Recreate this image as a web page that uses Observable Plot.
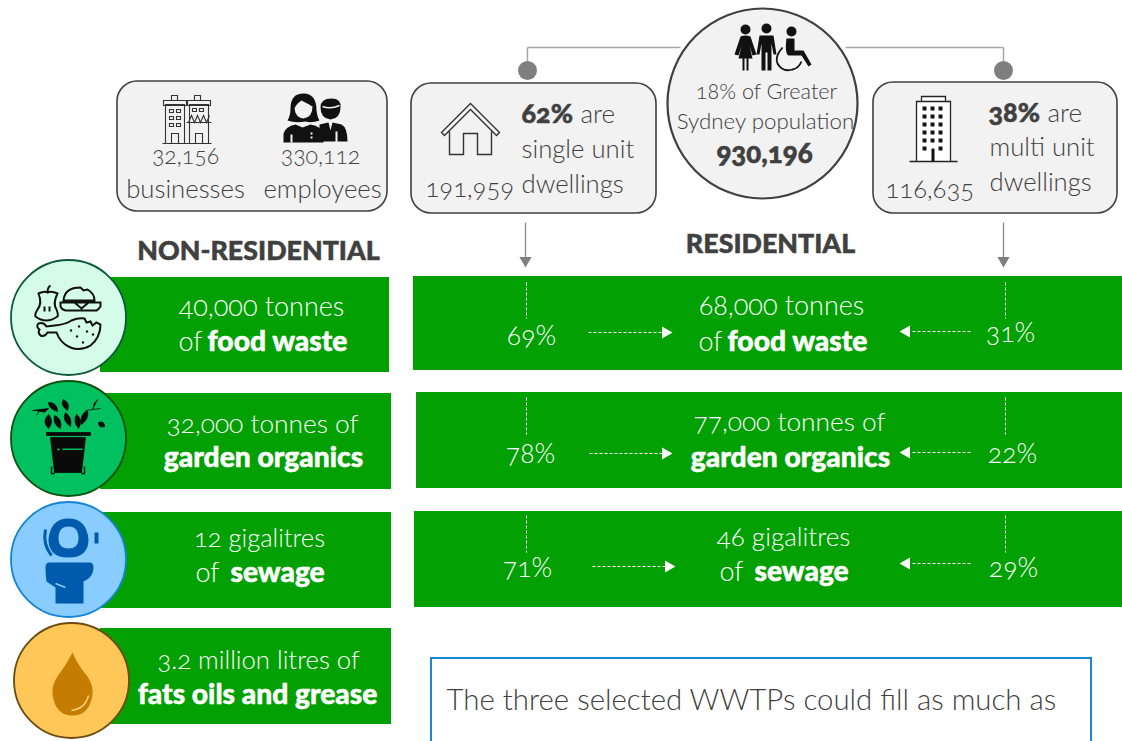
<!DOCTYPE html>
<html>
<head>
<meta charset="utf-8">
<style>html,body{margin:0;padding:0;background:#fff}svg{display:block}</style>
<script src="https://cdn.jsdelivr.net/npm/d3@7"></script>
<script src="https://cdn.jsdelivr.net/npm/@observablehq/plot@0.6"></script>
</head>
<body>
<div id="chart"></div>
<script>
// ---- values ----
const nonResidentialCounts = ["32,156", "330,112"];
const nonResidentialUnits = ["businesses", "employees"];
const dwellingCounts = ["191,959", "116,635"];
const dwellingShares = ["62%", "38%"];
const dwellingTypes = ["single unit", "multi unit"];
const population = "930,196";
const populationNote = ["18% of Greater", "Sydney population"];
const sectionTitles = ["NON-RESIDENTIAL", "RESIDENTIAL"];
const nonResidentialAmounts = ["40,000 tonnes", "32,000 tonnes of", "12 gigalitres", "3.2 million litres of"];
const residentialAmounts = ["68,000 tonnes", "77,000 tonnes of", "46 gigalitres"];
const streams = ["food waste", "garden organics", "sewage", "fats oils and grease"];
const singleUnitShares = ["69%", "78%", "71%"];
const multiUnitShares = ["31%", "22%", "29%"];
const note = "The three selected WWTPs could fill as much as";

// ---- page layout ----
const FONT = "Lato, 'Open Sans', sans-serif";
const GREEN = "#02a002", INK = "#404040", PANEL = "#f2f2f2";
const leftBars = [[100,389,277,372],[100,391,393,489],[100,391,512,608],[100,391,628,724]];
const rightBars = [[413,1122,276,370],[416,1122,392,488],[414,1122,511,607]];
const panels = [[117,387,81,211],[411,656,83,213],[873,1117,82,213]];
const badges = [
  {x:68,y:317,fill:"#d5fbe9",stroke:"#0b5a3c"},
  {x:68,y:438,fill:"#00c060",stroke:"#0c5010"},
  {x:68,y:559,fill:"#89ccff",stroke:"#1184d8"},
  {x:71,y:680,fill:"#ffc658",stroke:"#6b4b10"}
];
const rows = [
  {dash:[282,318], right:[588,662,332], left:[912,971,331]},
  {dash:[397,434], right:[589,662,453], left:[912,972,452]},
  {dash:[515,552], right:[592,665,566], left:[912,972,563]}
];

// icon glyphs: tiny path language drawn through Plot's custom dot symbols
function sym(d){
  const t = d.match(/[MLQCZOR]|-?[\d.]+/g);
  return {draw(c){
    let i = 0, k = null;
    const n = () => +t[i++];
    while(i < t.length){
      if(/[A-Z]/.test(t[i])) k = t[i++];
      if(k==="M"){c.moveTo(n(),n()); k="L";}
      else if(k==="L") c.lineTo(n(),n());
      else if(k==="Q") c.quadraticCurveTo(n(),n(),n(),n());
      else if(k==="Z") c.closePath();
      else if(k==="O"){const x=n(),y=n(),r=n(); c.moveTo(x+r,y); c.arc(x,y,r,0,2*Math.PI);}
      else if(k==="R"){const x=n(),y=n(),w=n(),h=n(); c.moveTo(x,y); c.lineTo(x+w,y); c.lineTo(x+w,y+h); c.lineTo(x,y+h); c.closePath();}
    }
  }};
}
const glyph = (x,y,d,o={}) => Plot.dot([[x,y]],{r:5,symbol:sym(d),fill:o.fill||"none",stroke:o.stroke||"none",strokeWidth:o.sw||1});

const icons = [
  // shops
  glyph(186,119,"R -21 -15 19 39 R -23 -19 23 5 R -15 -24 6 5 R -17 -10 4 3 R -10 -10 4 3 R -17 -3 4 3 R -10 -3 4 3 R -17 4 4 3 R -10 4 4 3 R -15 14 7 10 R 3 -15 19 39 R 1 -19 23 5 R 8 -24 6 5 R 6 -11 4 3 R 13 -11 4 3 M0 3 L25 3 M2 3 L5 -4 L8 3 L11 -4 L14 3 L17 -4 L20 3 L23 -4 M9 14 L16 14 L16 24 L9 24 Z M-24 24 L25 24",{stroke:"#333",sw:1.1}),
  // employees
  glyph(315,118,"M16 -20 Q26 -20 25 -11 Q25 0 15 1 Q5 0 5 -11 Q5 -20 16 -20 Z M4 6 L13 4 L15 12 L17 4 L26 6 Q32 9 32 23 L22 23 L22 13 L20 13 L20 23 L4 23 Z",{fill:"#111"}),
  glyph(315,118,"M7 -12 Q15 -9 24 -13",{stroke:PANEL,sw:1.5}),
  glyph(315,118,"M-12 -25 Q1 -25 1 -8 Q2 -1 4 2 Q-4 5 -10 3 Q-20 5 -28 2 Q-25 -3 -25 -10 Q-25 -25 -12 -25 Z M-32 24 L-32 15 Q-30 8 -20 6 L-13 9 L-5 6 Q6 8 8 15 L8 24 Z",{fill:"#111"}),
  glyph(315,118,"M-14 -18 Q-6 -14 -3 -12 Q-3 -1 -12 0 Q-20 -1 -21 -10 Q-19 -15 -14 -18 Z",{fill:PANEL}),
  glyph(315,118,"R -5 14 2 2 R -5 18 2 2 R -25 16 2 8",{fill:PANEL}),
  // house
  glyph(470,129,"M-29 3 L0 -26 L29 3 L26 6 L0 -20 L-26 6 Z M-21 2 L-21 25 L-7 25 L-7 4 L7 4 L7 25 L21 25 L21 2",{stroke:"#333",sw:1.4}),
  // tower
  glyph(933,128,"R -17 -27 34 60 R -12 -32 24 5 M-24 33 L24 33",{fill:"#fff",stroke:"#222",sw:1.3}),
  glyph(933,128,"R -11 -22 4 4 R -3 -22 4 4 R 5 -22 4 4 R -11 -14 4 4 R -3 -14 4 4 R 5 -14 4 4 R -11 -6 4 4 R -3 -6 4 4 R 5 -6 4 4 R -11 2 4 4 R -3 2 4 4 R 5 2 4 4 R -11 10 4 4 R -3 10 4 4 R 5 10 4 4 R -11 18 4 4 R 5 18 4 4 R -2 20 3 13",{fill:"#111"}),
  // people
  glyph(772,48,"O -27 -19 5 M-32 -12 Q-27 -14 -22 -12 L-16 6 L-20 7 L-23 -3 L-20 10 L-24 10 L-24 22 L-26 22 L-26 10 L-28 10 L-28 22 L-30 22 L-30 10 L-34 10 L-31 -3 L-34 7 L-38 6 Z O -6 -20 5 M-13 -13 L1 -13 L4 6 L1 6 L-1 -5 L-1 22 L-5 22 L-5 4 L-7 4 L-7 22 L-11 22 L-11 -5 L-13 6 L-16 6 Z O 19 -17 5 M14 -10 L22 -10 L22 2 L31 2 L39 16 L36 18 L29 7 L16 7 Q12 5 14 -10 Z",{fill:"#111"}),
  glyph(772,48,"M10 -1 Q2 8 5 15 Q10 24 20 21 Q26 20 29 13",{stroke:"#111",sw:1.8}),
  // food
  glyph(68,317,"M-30 -24 Q-24 -27 -21 -25 Q-17 -27 -11 -24 Q-16 -14 -12 -8 Q-10 -3 -11 -1 Q-17 3 -22 3 Q-28 3 -33 -1 Q-34 -3 -31 -8 Q-26 -14 -30 -24 Z M-21 -25 Q-21 -30 -18 -32 M-24 -11 L-24 -6 M-19 -11 L-19 -6 M-5 -17 Q-4 -30 12 -30 L15 -27 L19 -28 Q26 -24 26 -17 Z M-8 -15 L32 -15 L32 -11 Q30 -8 28 -7 L-3 -7 Q-7 -8 -8 -11 Z M6 -15 L13 -9 L20 -15 M-14 8 Q-3 7 3 3 Q10 0 16 1 L18 5 L22 4 L24 8 L28 5 L32 7 Q32 20 22 28 Q12 34 2 30 Q-8 26 -12 15 L-21 15 Q-24 20 -28 18 Q-31 15 -29 12 Q-33 9 -30 6 Q-25 4 -22 9 L-14 8 Z M2 12 L3 14 M10 8 L11 10 M18 13 L19 15 M8 18 L9 20 M14 24 L15 26 M24 16 L25 18",{stroke:"#111",sw:2}),
  // garden
  glyph(68,438,"R -22 -6 44 3 M-18 -1 L17 -1 L13 34 L-14 34 Z M-20 -10 Q-27 -17 -20 -24 Q-14 -17 -20 -10 Z M-8 -10 Q-16 -14 -14 -23 Q-6 -20 -8 -10 Z M-11 -27 Q-20 -30 -20 -36 Q-11 -36 -11 -27 Z M2 -12 Q-7 -18 -3 -26 Q4 -21 2 -12 Z M-1 -28 Q-9 -34 -5 -39 Q2 -35 -1 -28 Z M10 -10 Q4 -17 8 -24 Q15 -19 10 -10 Z M13 -14 Q11 -24 19 -28 Q21 -20 13 -14 Z M-36 -28 L-20 -30 L-24 -26 M-28 -29 L-32 -23 M17 -28 L32 -30 M24 -29 L29 -39 L25 -34 M30 -16 Q36 -18 36 -12 Q30 -10 30 -16 Z",{fill:"#0a0a0a",stroke:"#0a0a0a",sw:.8}),
  glyph(68,438,"R -11 10 2 2 R -6 10 20 1.4",{fill:"#00c060"}),
  glyph(68,438,"M-17 28 L-17 35 L-14 35 M16 28 L16 35 L13 35",{stroke:"#0a0a0a",sw:1.3}),
  // toilet
  glyph(68,559,"M0 -41 Q18 -41 20 -20 Q20 -2 0 -2 Q-20 -2 -20 -20 Q-18 -41 0 -41 Z R 26 -27 4 11 M-19 3 L21 3 Q25 3 25 8 Q25 18 15 22 L15 44 L-13 44 L-13 28 L-22 22 Q-23 16 -23 8 Q-23 3 -19 3 Z",{fill:"#005bad"}),
  glyph(68,559,"M-23 -30 Q-26 -15 -17 -4",{stroke:"#005bad",sw:3}),
  glyph(68,559,"M0 -33 Q10 -33 10 -21 Q10 -11 0 -11 Q-10 -11 -10 -21 Q-10 -33 0 -33 Z",{fill:"#89ccff"}),
  glyph(68,559,"M-13 24 L-3 28",{stroke:"#89ccff",sw:1.5}),
  // drop
  glyph(71,680,"M1 -28 Q6 -16 16 -4 Q22 5 21 14 Q18 35 1 35 Q-16 35 -19 14 Q-20 5 -14 -4 Q-5 -16 1 -28 Z",{fill:"#c47d00"}),
  glyph(71,680,"M0 30 Q14 28 17 15",{stroke:"#ffd37a",sw:1.4})
];

const OSN = "oldstyle-nums";
const txt = (list,{weight=300,anchor="start",fill=INK,size=25}={}) => Plot.text(list,{
  x:d=>d[1], y:d=>d[2], text:d=>d[0], fontSize:d=>d[3]||size,
  fontFamily:FONT, fontWeight:weight, fontVariant:OSN, textAnchor:anchor, lineAnchor:"bottom", fill,
  ...(weight>=700 ? {stroke:fill,strokeWidth:0.5} : {})
});
const box = (list,o) => Plot.rect(list,{x1:d=>d[0],x2:d=>d[1],y1:d=>d[2],y2:d=>d[3],...o});
const seg = (x1,y1,x2,y2,o) => Plot.link([0],{x1:()=>x1,y1:()=>y1,x2:()=>x2,y2:()=>y2,...o});
const head = (x,y,deg,fill,r=4.5) => Plot.dot([[x,y]],{r,symbol:"triangle",rotate:deg,fill,stroke:"none"});

const wh = {stroke:"#fff",strokeWidth:1,strokeDasharray:"3,2"};
const gr = {stroke:"#a6a6a6",strokeWidth:1.5};

const chart = Plot.plot({
  width:1122, height:741, margin:0,
  x:{domain:[0,1122],axis:null},
  y:{domain:[741,0],axis:null},
  marks:[
    // connectors
    seg(527,47,680,47,gr), seg(845,47,1003,47,gr), seg(527,47,527,70,gr), seg(1003,47,1003,70,gr),
    seg(525,222,525,258,{stroke:"#8c8c8c",strokeWidth:1.3}), seg(1003,222,1003,258,{stroke:"#8c8c8c",strokeWidth:1.3}),
    head(525,260,180,"#7f7f7f"), head(1003,260,180,"#7f7f7f"),
    Plot.dot([[527,70],[1003,70]],{r:9.5,fill:"#7f7f7f",stroke:"none"}),
    // panels
    box(panels,{rx:20,fill:PANEL,stroke:INK,strokeWidth:1.6}),
    Plot.dot([[762,103]],{r:95,fill:PANEL,stroke:INK,strokeWidth:2.2}),
    // bars
    box(leftBars,{fill:GREEN}), box(rightBars,{fill:GREEN}),
    // badges
    ...badges.map(b=>Plot.dot([[b.x,b.y]],{r:57.5,fill:b.fill,stroke:b.stroke,strokeWidth:1.8})),
    ...icons,
    // connectors inside the bars
    ...rows.flatMap(r=>[
      seg(526,r.dash[0],526,r.dash[1],wh), seg(1005,r.dash[0],1005,r.dash[1],wh),
      seg(r.right[0],r.right[2],r.right[1],r.right[2],wh), head(r.right[1]+3,r.right[2],90,"#fff"),
      seg(r.left[0],r.left[2],r.left[1],r.left[2],wh), head(r.left[0]-6,r.left[2],-90,"#fff")
    ]),
    // note box
    box([[431,1091,658,760]],{fill:"#fff",stroke:"#1a86d6",strokeWidth:2}),
    txt([[note,446,709]],{size:29.4}),
    // section titles
    txt([[sectionTitles[0],258,259],[sectionTitles[1],770,252]],{anchor:"middle",weight:900,size:26.8}),
    // panel text
    txt([[nonResidentialCounts[0],185,163,23],[nonResidentialCounts[1],320,163,23],[nonResidentialUnits[0],185,197,25.7],[nonResidentialUnits[1],322,197,25.7],
         [populationNote[0],766,98,21.6],[populationNote[1],765,128,22.3]],{anchor:"middle"}),
    txt([[population,764,162,27.7]],{anchor:"middle",weight:900}),
    txt([[dwellingCounts[0],425,196,25.6],[dwellingCounts[1],885,197,25.6],[dwellingTypes[0],521,157,25.7],["dwellings",521,192,25.7],[dwellingTypes[1],989,155,25.7],["dwellings",989,190,25.7],
         ["are",580,122,26],["are",1047,121,26]]),
    txt([[dwellingShares[0],521,122,27],[dwellingShares[1],988,121,27]],{weight:900}),
    // bar text
    txt([[nonResidentialAmounts[0],261,315,27],[nonResidentialAmounts[1],262,432,26.3],[nonResidentialAmounts[2],259,546,25.5],[nonResidentialAmounts[3],258,668,25.7],
         [residentialAmounts[0],781,314,27],[residentialAmounts[1],789,430,26.3],[residentialAmounts[2],783,545,26]],{anchor:"middle",fill:"#fff"}),
    txt([[singleUnitShares[0],531,344],[singleUnitShares[1],530,462],[singleUnitShares[2],527,576],
         [multiUnitShares[0],1010,341],[multiUnitShares[1],1012,462],[multiUnitShares[2],1013,576]],{anchor:"middle",fill:"#fff",size:26.5}),
    txt([["of",178,350],["of",195,581],["of",698,350],["of",719,580]],{fill:"#fff",size:27}),
    txt([[streams[0],207,350],[streams[2],230,581],[streams[0],727,350],[streams[2],754,580]],{fill:"#fff",weight:900,size:28.2}),
    txt([[streams[1],263,466],[streams[3],257,703],[streams[1],790,466]],{fill:"#fff",weight:900,anchor:"middle",size:28.2})
  ]
});
document.getElementById("chart").append(chart);
</script>
</body>
</html>
